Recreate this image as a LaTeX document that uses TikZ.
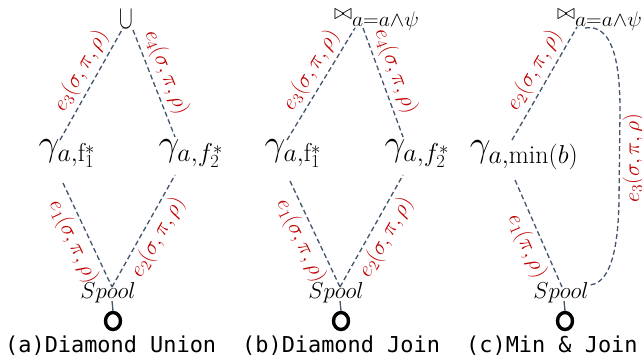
\RequirePackage{fix-cm}
\documentclass[tikz,border=0pt]{standalone}
\usepackage{fontspec}
\usepackage{graphicx}
\newfontfamily\capfont{DejaVu Sans Mono}
\usetikzlibrary{shapes.geometric}
\definecolor{edgec}{HTML}{44546A}
\definecolor{labc}{HTML}{C00000}
\newcommand{\joinop}{{\fontsize{22}{24}\selectfont$\bowtie$}\raisebox{-7pt}{\fontsize{21}{24}\selectfont\scalebox{1.03}[1]{$a{=}a{\wedge}\psi$}}}
\begin{document}
\begin{tikzpicture}[x=1pt,y=-1pt,
  edge/.style={draw=edgec, line width=1.3pt, dash pattern=on 5pt off 3pt},
  stem/.style={draw=edgec, line width=1.3pt},
  lab/.style={text=labc, font=\fontsize{22}{26}\selectfont, sloped, inner sep=4pt},
  gam/.style={font=\fontsize{37}{40}\selectfont, inner sep=0pt},
  spl/.style={font=\fontsize{23}{26}\selectfont, inner sep=0pt},
  topop/.style={inner sep=0pt, anchor=base west},
  ring/.style={draw=black, line width=3.4pt, ellipse, minimum width=15pt, minimum height=17pt, inner sep=0pt},
  captxt/.style={font=\capfont\fontsize{21.9}{24}\selectfont, anchor=base west, inner sep=0pt}
]
\useasboundingbox (0,0) rectangle (642,360);

% ---------- (a) Diamond Union ----------
\node[font=\fontsize{33}{36}\selectfont, inner sep=0pt, anchor=base] (uA) at (126,28) {\scalebox{0.62}[1]{$\cup$}};
\node[gam] (gA1) at (67,154) {$\gamma_{a,\mathrm{f}_1^*}$};
\node[gam] (gA2) at (191,154) {$\gamma_{a,f_2^*}$};
\node[spl] (sA) at (108,293) {$Spool$};
\node[ring] (oA) at (113,321) {};
\coordinate (uAl) at (123,28);
\coordinate (uAr) at (133,30);
\coordinate (gA1t) at (60,140);
\coordinate (gA1b) at (63,183);
\coordinate (gA2t) at (175,137);
\coordinate (gA2b) at (175,175);
\coordinate (sAt) at (112,287);
\coordinate (sAb) at (112,301);
\draw[edge] (gA1t) -- node[lab, above, pos=0.55] {$e_3(\sigma,\pi,\rho)$} (uAl);
\draw[edge] (uAr) -- node[lab, above, pos=0.45] {$e_4(\sigma,\pi,\rho)$} (gA2t);
\draw[edge] (gA1b) -- node[lab, below, pos=0.5] {$e_1(\sigma,\pi,\rho)$} (sAt);
\draw[edge] (sAt) -- node[lab, below, pos=0.51] {$e_2(\sigma,\pi,\rho)$} (gA2b);
\draw[stem] (sAb) -- (oA.north);

% ---------- (b) Diamond Join ----------
\node[topop] (jB) at (334,19) {\joinop};
\node[gam] (gB1) at (293,154) {$\gamma_{a,\mathrm{f}_1^*}$};
\node[gam] (gB2) at (417,154) {$\gamma_{a,f_2^*}$};
\node[spl] (sB) at (336,293) {$Spool$};
\node[ring] (oB) at (341,321) {};
\coordinate (jBl) at (355,28);
\coordinate (jBr) at (363,28);
\coordinate (gB1t) at (287,140);
\coordinate (gB1b) at (290,181);
\coordinate (gB2t) at (403,137);
\coordinate (gB2b) at (403,175);
\coordinate (sBt) at (340,287);
\coordinate (sBb) at (340,301);
\draw[edge] (gB1t) -- node[lab, above, pos=0.55] {$e_3(\sigma,\pi,\rho)$} (jBl);
\draw[edge] (jBr) -- node[lab, above, pos=0.45] {$e_4(\sigma,\pi,\rho)$} (gB2t);
\draw[edge] (gB1b) -- node[lab, below, pos=0.5] {$e_1(\sigma,\pi,\rho)$} (sBt);
\draw[edge] (sBt) -- node[lab, below, pos=0.51] {$e_2(\sigma,\pi,\rho)$} (gB2b);
\draw[stem] (sBb) -- (oB.north);

% ---------- (c) Min & Join ----------
\node[topop] (jC) at (557,19) {\joinop};
\node[gam] (gC) at (524,155) {$\gamma_{a,\min(b)}$};
\node[spl] (sC) at (561,293) {$Spool$};
\node[ring] (oC) at (565,321) {};
\coordinate (jCl) at (577,27);
\coordinate (jCr) at (585,28);
\coordinate (gCt) at (512,140);
\coordinate (gCb) at (515,180);
\coordinate (sCt) at (562,287);
\coordinate (sCr) at (588,285);
\coordinate (sCb) at (564,301);
\draw[edge] (gCt) -- node[lab, above, pos=0.55] {$e_2(\sigma,\pi,\rho)$} (jCl);
\draw[edge] (gCb) -- node[lab, below, pos=0.56] {$e_1(\pi,\rho)$} (sCt);
\draw[edge] (jCr) .. controls (610,24) and (620,55) .. (620,110)
                  -- (619,200) .. controls (618,262) and (606,285) .. (sCr);
\node[text=labc, font=\fontsize{22}{26}\selectfont, rotate=90, inner sep=0pt, anchor=base] (lC3) at (639,158) {$e_3(\sigma,\pi,\rho)$};
\draw[stem] (sCb) -- (oC.north);

% ---------- captions ----------
\node[captxt] (capA) at (5,352) {(a)Diamond Union};
\node[captxt] (capB) at (242,352) {(b)Diamond Join};
\node[captxt] (capC) at (466,352) {(c)Min \& Join};
\end{tikzpicture}
\end{document}
